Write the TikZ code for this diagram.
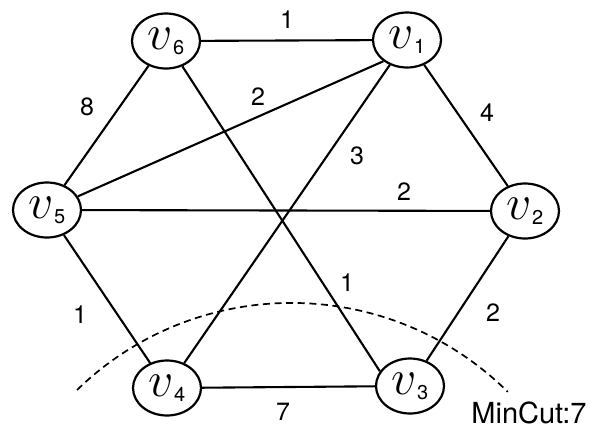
\documentclass[tikz,border=0pt]{standalone}
\usepackage{fontspec}
\setsansfont{TeX Gyre Heros}
\usepackage{tikz}
\usetikzlibrary{shapes.geometric}
\newcommand{\vx}[1]{{\fontsize{23}{23}\selectfont$v$}\raisebox{-2.5pt}{\sffamily\fontsize{10}{10}\selectfont #1}}

\begin{document}
\begin{tikzpicture}[
  x=0.5pt, y=-0.5pt,
  vert/.style={draw, ellipse, line width=1.1pt, minimum width=34pt, minimum height=27.5pt,
    inner sep=0pt, fill=white},
  wt/.style={font=\sffamily\fontsize{12.5}{14}\selectfont, inner sep=0pt},
  edge/.style={line width=1.05pt},
  cut/.style={line width=0.85pt, dash pattern=on 3.5pt off 2.3pt},
]
\useasboundingbox (0,0) rectangle (609,429);
\node[vert] (v6) at (166,41) {\vx{6}};
\node[vert] (v1) at (407,40) {\vx{1}};
\node[vert] (v5) at (47,210) {\vx{5}};
\node[vert] (v2) at (525,211) {\vx{2}};
\node[vert] (v4) at (167,388) {\vx{4}};
\node[vert] (v3) at (410,386) {\vx{3}};
\draw[edge] (v6) -- (v1);
\draw[edge] (v1) -- (v2);
\draw[edge] (v6) -- (v5);
\draw[edge] (v5) -- (v1.222);
\draw[edge] (v1) -- (v4);
\draw[edge] (v5) -- (v2);
\draw[edge] (v6) -- (v3.154);
\draw[edge] (v2) -- (v3);
\draw[edge] (v5) -- (v4);
\draw[edge] (v4) -- (v3);
% weights
\node[wt] (w61) at (287,20) {1};
\node[wt] (w12) at (487,113) {4};
\node[wt] (w65) at (87,107) {8};
\node[wt] (w51) at (258,97) {2};
\node[wt] (w14) at (357,156) {3};
\node[wt] (w52) at (404,192) {2};
\node[wt] (w63) at (347,283) {1};
\node[wt] (w23) at (493,313) {2};
\node[wt] (w54) at (80,315) {1};
\node[wt] (w43) at (283,412) {7};
% cut
\coordinate (cutL) at (77,390);
\draw[cut] (cutL) arc[start angle=-134.2, end angle=-45.3, radius=307.6];
\node[font=\sffamily\fontsize{14.5}{16}\selectfont, inner sep=0pt] (mc) at (529,413) {MinCut:7};
\end{tikzpicture}
\end{document}
